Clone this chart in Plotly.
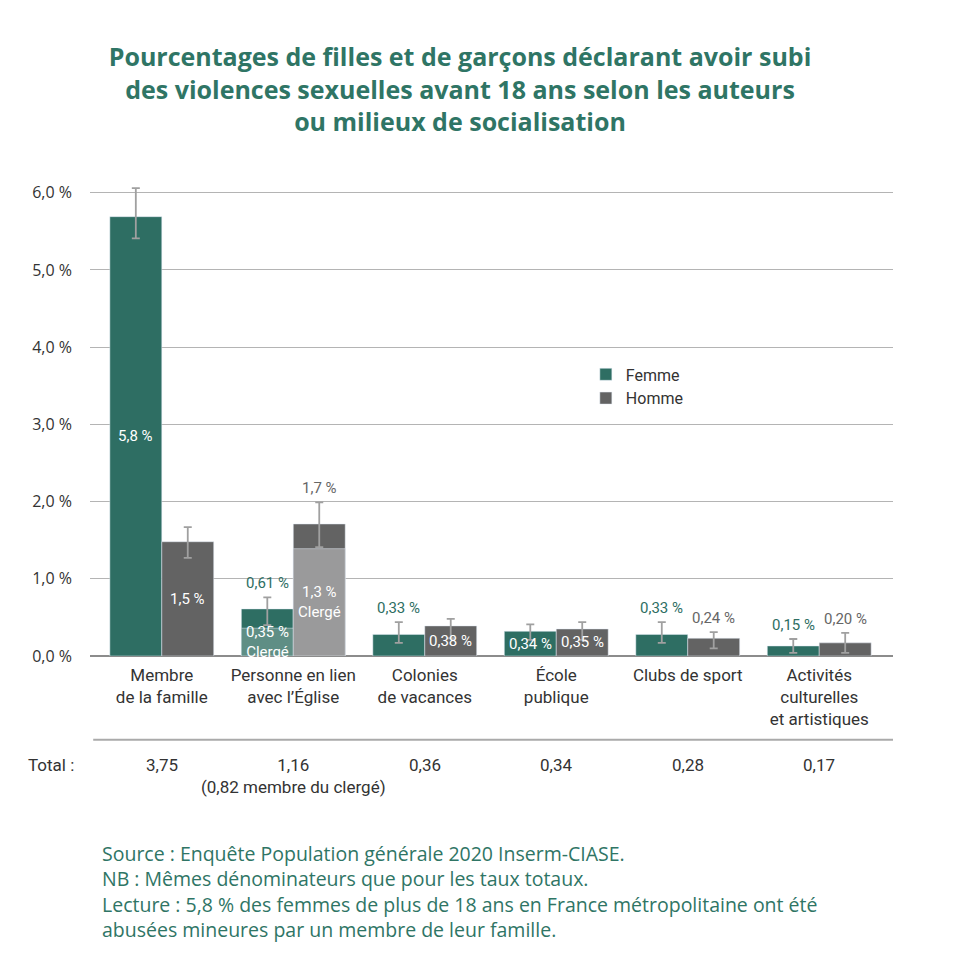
import plotly.graph_objects as go

categories = ["Membre<br>de la famille", "Personne en lien<br>avec l’Église", "Colonies<br>de vacances",
              "École<br>publique", "Clubs de sport", "Activités<br>culturelles<br>et artistiques"]
totals = ["3,75", "1,16<br>(0,82 membre du clergé)", "0,36", "0,34", "0,28", "0,17"]
y_ticks = [0, 1, 2, 3, 4, 5, 6]
y_ticktext = ["0,0 %", "1,0 %", "2,0 %", "3,0 %", "4,0 %", "5,0 %", "6,0 %"]

femme = [5.69, 0.61, 0.28, 0.32, 0.28, 0.13]
femme_hi = [6.06, 0.76, 0.44, 0.41, 0.44, 0.22]
femme_lo = [5.41, 0.40, 0.17, 0.21, 0.17, 0.04]
femme_labels = ["5,8 %", "0,61 %", "0,33 %", "0,34 %", "0,33 %", "0,15 %"]
femme_inside = [True, False, False, True, False, False]

homme = [1.48, 1.71, 0.39, 0.35, 0.23, 0.17]
homme_hi = [1.67, 1.99, 0.48, 0.44, 0.31, 0.30]
homme_lo = [1.27, 1.41, 0.23, 0.21, 0.10, 0.04]
homme_labels = ["1,5 %", "1,7 %", "0,38 %", "0,35 %", "0,24 %", "0,20 %"]
homme_inside = [True, False, True, True, False, False]

# part "Clergé" inside the Église bars
clerge_cat = categories[1]
clerge_femme = 0.36
clerge_homme = 1.39
clerge_labels = ["0,35 %<br>Clergé", "1,3 %<br>Clergé"]

TEAL = "#2e6e63"
TEAL_LIGHT = "#5f8e85"
GREY = "#636363"
GREY_LIGHT = "#9a9a9b"
TITLE = "#2f7565"
ERR = "#a0a0a0"
FONT = "Roboto"
TFONT = "Open Sans"

fig = go.Figure()
fig.add_trace(go.Bar(
    x=categories, y=femme, name="Femme", marker_color=TEAL, offsetgroup="F",
    error_y=dict(type="data", symmetric=False,
                 array=[h - v for h, v in zip(femme_hi, femme)],
                 arrayminus=[v - l for v, l in zip(femme, femme_lo)],
                 color=ERR, thickness=1.8, width=4)))
fig.add_trace(go.Bar(
    x=categories, y=homme, name="Homme", marker_color=GREY, offsetgroup="H",
    error_y=dict(type="data", symmetric=False,
                 array=[h - v for h, v in zip(homme_hi, homme)],
                 arrayminus=[v - l for v, l in zip(homme, homme_lo)],
                 color=ERR, thickness=1.8, width=4)))
fig.add_trace(go.Bar(x=[clerge_cat], y=[clerge_femme], marker_color=TEAL_LIGHT,
                     offsetgroup="F", showlegend=False))
fig.add_trace(go.Bar(x=[clerge_cat], y=[clerge_homme], marker_color=GREY_LIGHT,
                     offsetgroup="H", showlegend=False))


# value labels
def add_labels(values, highs, labels, inside, side, outcolor):
    for i, (v, h, t, ins) in enumerate(zip(values, highs, labels, inside)):
        if ins:
            fig.add_annotation(x=categories[i], y=v / 2, text=t, showarrow=False,
                               xshift=side, font=dict(color="white", size=15, family=FONT))
        else:
            fig.add_annotation(x=categories[i], y=h, text=t, showarrow=False, yanchor="bottom",
                               yshift=3, xshift=side, font=dict(color=outcolor, size=15, family=FONT))


add_labels(femme, femme_hi, femme_labels, femme_inside, -26, TEAL)
add_labels(homme, homme_hi, homme_labels, homme_inside, 26, "#666666")
for val, lab, side in zip([clerge_femme, clerge_homme], clerge_labels, [-26, 26]):
    fig.add_annotation(x=clerge_cat, y=val / 2, text=lab, showarrow=False, xshift=side,
                       font=dict(color="white", size=15, family=FONT))

# totals row
fig.add_annotation(x=0, xref="paper", xanchor="right", xshift=-14, y=-0.207, yref="paper",
                   yanchor="top", text="Total :", showarrow=False, align="left",
                   font=dict(color="#333333", size=17, family=FONT))
for c, t in zip(categories, totals):
    fig.add_annotation(x=c, y=-0.207, yref="paper", yanchor="top", text=t, showarrow=False,
                       font=dict(color="#333333", size=17, family=FONT))
fig.add_shape(type="line", xref="paper", yref="paper", x0=0.004, x1=1, y0=-0.178, y1=-0.178,
              line=dict(color="#aaaaaa", width=2))

# source
fig.add_annotation(x=0.0125, xref="paper", xanchor="left", y=-0.387, yref="paper", yanchor="top",
                   align="left", showarrow=False,
                   text="Source : Enquête Population générale 2020 Inserm-CIASE.<br>"
                        "NB : Mêmes dénominateurs que pour les taux totaux.<br>"
                        "Lecture : 5,8 % des femmes de plus de 18 ans en France métropolitaine ont été<br>"
                        "abusées mineures par un membre de leur famille.",
                   font=dict(color=TITLE, size=19.5, family=TFONT))

fig.update_layout(
    width=960, height=943,
    margin=dict(l=82, r=75, t=177, b=295),
    paper_bgcolor="white", plot_bgcolor="white",
    barmode="group", bargap=0.21, bargroupgap=0,
    font=dict(family=FONT, color="#333333"),
    title=dict(text="<b>Pourcentages de filles et de garçons déclarant avoir subi<br>"
                    "des violences sexuelles avant 18 ans selon les auteurs<br>"
                    "ou milieux de socialisation</b>",
               x=452 / 960, xanchor="center", y=0.938, yanchor="top",
               font=dict(color=TITLE, size=25, family=TFONT)),
    legend=dict(x=0.6175, y=0.634, xanchor="left", yanchor="top", bgcolor="rgba(0,0,0,0)",
                font=dict(size=16, color="#333333")),
    showlegend=True,
)
fig.update_xaxes(range=[-0.546, 5.561], showline=False, ticks="", ticklabelstandoff=7,
                 tickfont=dict(size=17, color="#333333"))
fig.update_yaxes(range=[0, 6.1], tickvals=y_ticks, ticktext=y_ticktext,
                 gridcolor="#b4b4b4", gridwidth=1, zeroline=True, zerolinecolor="#8c8c8c", zerolinewidth=1.5,
                 ticklabelstandoff=17, tickfont=dict(size=16, color="#333333", family=TFONT))

fig.write_html("out.html")
